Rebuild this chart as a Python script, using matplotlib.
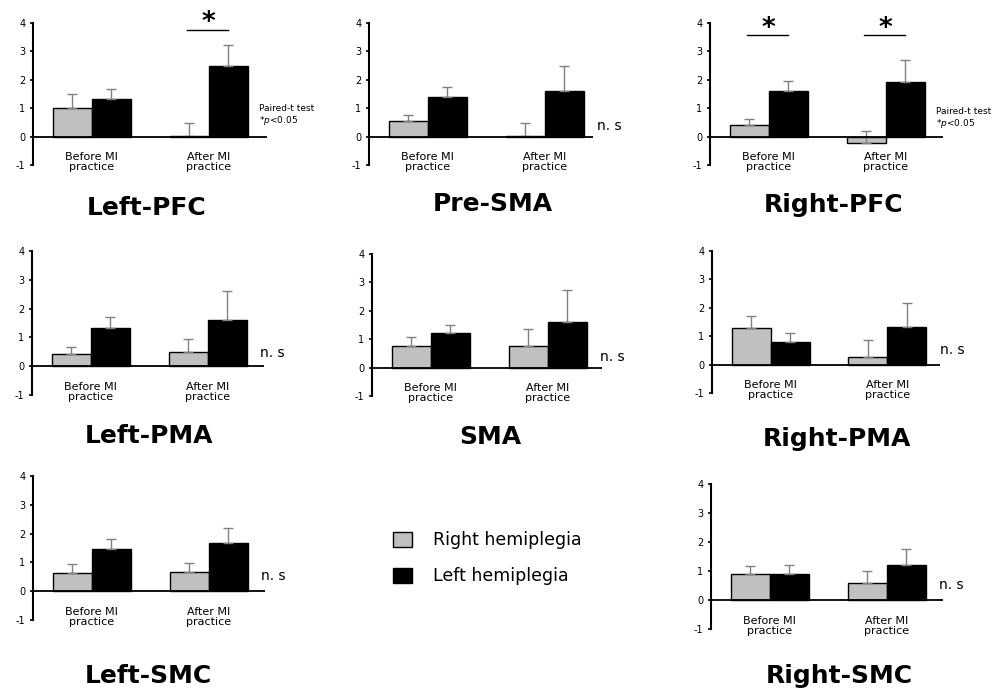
import matplotlib
matplotlib.use("Agg")
from matplotlib import pyplot as plt

# regions, in the order of the figure panels
regions = ["Left-PFC", "Pre-SMA", "Right-PFC",
           "Left-PMA", "SMA", "Right-PMA",
           "Left-SMC", "Right-SMC"]
phases = ["Before MI\npractice", "After MI\npractice"]

# mean values (before, after)
right_hemi = [[1.02, 0.03], [0.55, 0.03], [0.40, -0.23],
              [0.44, 0.50], [0.76, 0.76], [1.28, 0.28],
              [0.64, 0.66], [0.90, 0.60]]
left_hemi = [[1.32, 2.48], [1.38, 1.61], [1.61, 1.94],
             [1.33, 1.62], [1.22, 1.60], [0.78, 1.34],
             [1.46, 1.66], [0.90, 1.22]]
# upper error (SE)
right_err = [[0.47, 0.46], [0.20, 0.46], [0.22, 0.42],
             [0.21, 0.45], [0.33, 0.59], [0.42, 0.57],
             [0.30, 0.33], [0.28, 0.39]]
left_err = [[0.35, 0.76], [0.37, 0.89], [0.35, 0.77],
            [0.38, 0.98], [0.28, 1.13], [0.33, 0.84],
            [0.34, 0.53], [0.31, 0.55]]

# significance: which phase groups got a star
signif = {"Left-PFC": [1], "Right-PFC": [0, 1]}

W, H = 993, 688
# axes boxes in pixels: left, top(y=4), right, bottom(y=-1)
boxes = [(33, 23, 267, 165), (369, 23, 593, 165), (710, 23, 943, 165),
         (32, 251, 264, 395), (372, 254, 602, 396), (712, 251, 940, 393),
         (33, 476, 265, 620), (711, 484, 943, 629)]
titles_xy = [(147, 208), (493, 204), (834, 205),
             (149, 436), (490, 437), (837, 439),
             (148, 676), (839, 676)]
note_y = [0.75, 0.39, 0.63, 0.45, 0.39, 0.52, 0.52, 0.52]

GREY = "#c0c0c0"
BAR_PX = 39.0

fig = plt.figure(figsize=(W / 100, H / 100), dpi=100)
centers = [1.5, 4.5]
bars_for_legend = None

for i, reg in enumerate(regions):
    x0, y0, x1, y1 = boxes[i]
    ax = fig.add_axes([x0 / W, 1 - y1 / H, (x1 - x0) / W, (y1 - y0) / H])
    xmax = (x1 - x0) / BAR_PX
    ax.set_xlim(0, xmax)
    ax.set_ylim(-1, 4)

    gx = [c - 0.5 for c in centers]
    bx = [c + 0.5 for c in centers]
    b1 = ax.bar(gx, right_hemi[i], width=1.0, color=GREY, edgecolor="black",
                linewidth=1.0, zorder=2, label="Right hemiplegia")
    b2 = ax.bar(bx, left_hemi[i], width=1.0, color="black", edgecolor="black",
                linewidth=1.0, zorder=2, label="Left hemiplegia")
    if bars_for_legend is None:
        bars_for_legend = (b1, b2)
    ax.errorbar(gx, right_hemi[i], yerr=[[0, 0], right_err[i]], fmt="none",
                ecolor="#808080", elinewidth=1.0, capsize=3.6, capthick=1.0,
                zorder=3)
    ax.errorbar(bx, left_hemi[i], yerr=[[0, 0], left_err[i]], fmt="none",
                ecolor="#808080", elinewidth=1.0, capsize=3.6, capthick=1.0,
                zorder=3)

    ax.axhline(0, color="black", linewidth=1.3, zorder=4)
    for s in ["top", "right", "bottom"]:
        ax.spines[s].set_visible(False)
    ax.spines["left"].set_linewidth(1.5)
    ax.set_xticks([])
    ax.set_yticks([-1, 0, 1, 2, 3, 4])
    ax.set_yticklabels(["-1", "0", "1", "2", "3", "4"])
    ax.tick_params(axis="y", length=2.5, width=1.2, pad=3, labelsize=7)
    ax.patch.set_visible(False)

    for c, lab in zip(centers, phases):
        ax.text(c, -0.9, lab, ha="center", va="center", fontsize=8,
                linespacing=1.05)

    if reg in signif:
        for g in signif[reg]:
            c = centers[g]
            ly = 3.77 if reg == "Left-PFC" else 3.57
            ax.plot([c - 0.55, c + 0.5], [ly, ly], color="black",
                    linewidth=1.0, clip_on=False)
            ax.text(c, ly + 0.22, "*", ha="center", va="center",
                    fontsize=19, fontweight="bold")
        ax.text(5.8, note_y[i], "Paired-t test\n*$p$<0.05", ha="left",
                va="center", fontsize=6.5, linespacing=1.15)
    else:
        ax.text(5.85, note_y[i], "n. s", ha="left", va="center", fontsize=10)

    tx, ty = titles_xy[i]
    fig.text(tx / W, 1 - ty / H, reg, ha="center", va="center",
             fontsize=18, fontweight="bold")

fig.legend(bars_for_legend, ["Right hemiplegia", "Left hemiplegia"],
           loc="upper left", bbox_to_anchor=(393 / W, 1 - 531 / H),
           frameon=False, fontsize=12.5, handlelength=1.1, handleheight=0.95,
           handletextpad=1.2, labelspacing=1.05, borderpad=0, borderaxespad=0)

fig.savefig("out.png", dpi=100)
